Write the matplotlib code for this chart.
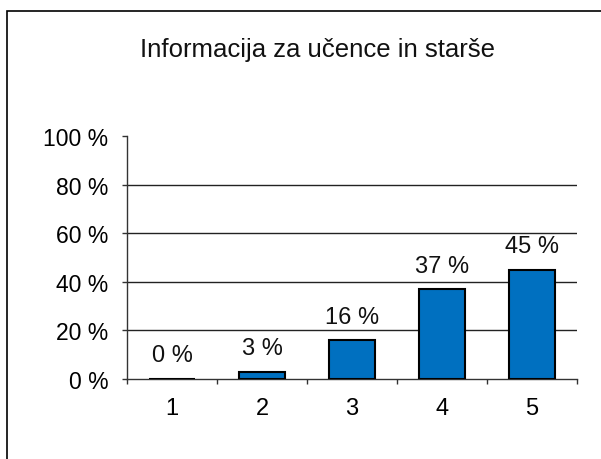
import matplotlib.pyplot as plt
from matplotlib.patches import Rectangle

# chart data
categories = ['1', '2', '3', '4', '5']
values = [0, 3, 16, 37, 45]
y_ticks = [0, 20, 40, 60, 80, 100]
title = 'Informacija za učence in starše'

plt.rcParams['font.family'] = ['Liberation Sans', 'DejaVu Sans']

fig = plt.figure(figsize=(6.01, 4.60), dpi=100)
ax = fig.add_axes([127 / 601, 1 - 380 / 460, 450 / 601, 243 / 460])

xpos = list(range(1, len(categories) + 1))
ax.bar(xpos, values, width=0.51, color='#0070C0', edgecolor='black', linewidth=1.5, zorder=3)

for x, v in zip(xpos, values):
    ax.annotate(f'{v} %', (x, v), xytext=(0, 9), textcoords='offset points',
                ha='center', va='bottom', fontsize=17, color='#111111')

ax.set_xlim(0.5, 5.5)
ax.set_ylim(0, 100)

ax.set_yticks(y_ticks)
ax.set_yticklabels([f'{t} %' for t in y_ticks], fontsize=16.5)
for t in y_ticks[1:-1]:
    ax.axhline(t, color='#222222', linewidth=1, zorder=1)

# ticks sit between the categories, labels at centres
ax.set_xticks([x + 0.5 for x in range(0, 6)])
ax.set_xticklabels([])
ax.set_xticks(xpos, minor=True)
ax.set_xticklabels(categories, minor=True, fontsize=17)
ax.tick_params(axis='x', which='minor', length=0, pad=13)
ax.tick_params(axis='x', which='major', length=3.5, width=1, color='#333333')
ax.tick_params(axis='y', length=3.5, width=1, color='#333333', pad=10)

for side in ['top', 'right']:
    ax.spines[side].set_visible(False)
for side in ['left', 'bottom']:
    ax.spines[side].set_color('#333333')
    ax.spines[side].set_linewidth(1)

fig.text(317 / 601, 1 - 57 / 460, title, ha='center', va='baseline', fontsize=18.5, color='#111111')

# outer frame of the chart area (runs past right/bottom edges)
fig.patches.append(Rectangle((7 / 601, -0.1), 1.2, 1 - 12 / 460 + 0.1, transform=fig.transFigure,
                             fill=False, edgecolor='black', linewidth=1.2))

fig.savefig('out.png', dpi=100)
